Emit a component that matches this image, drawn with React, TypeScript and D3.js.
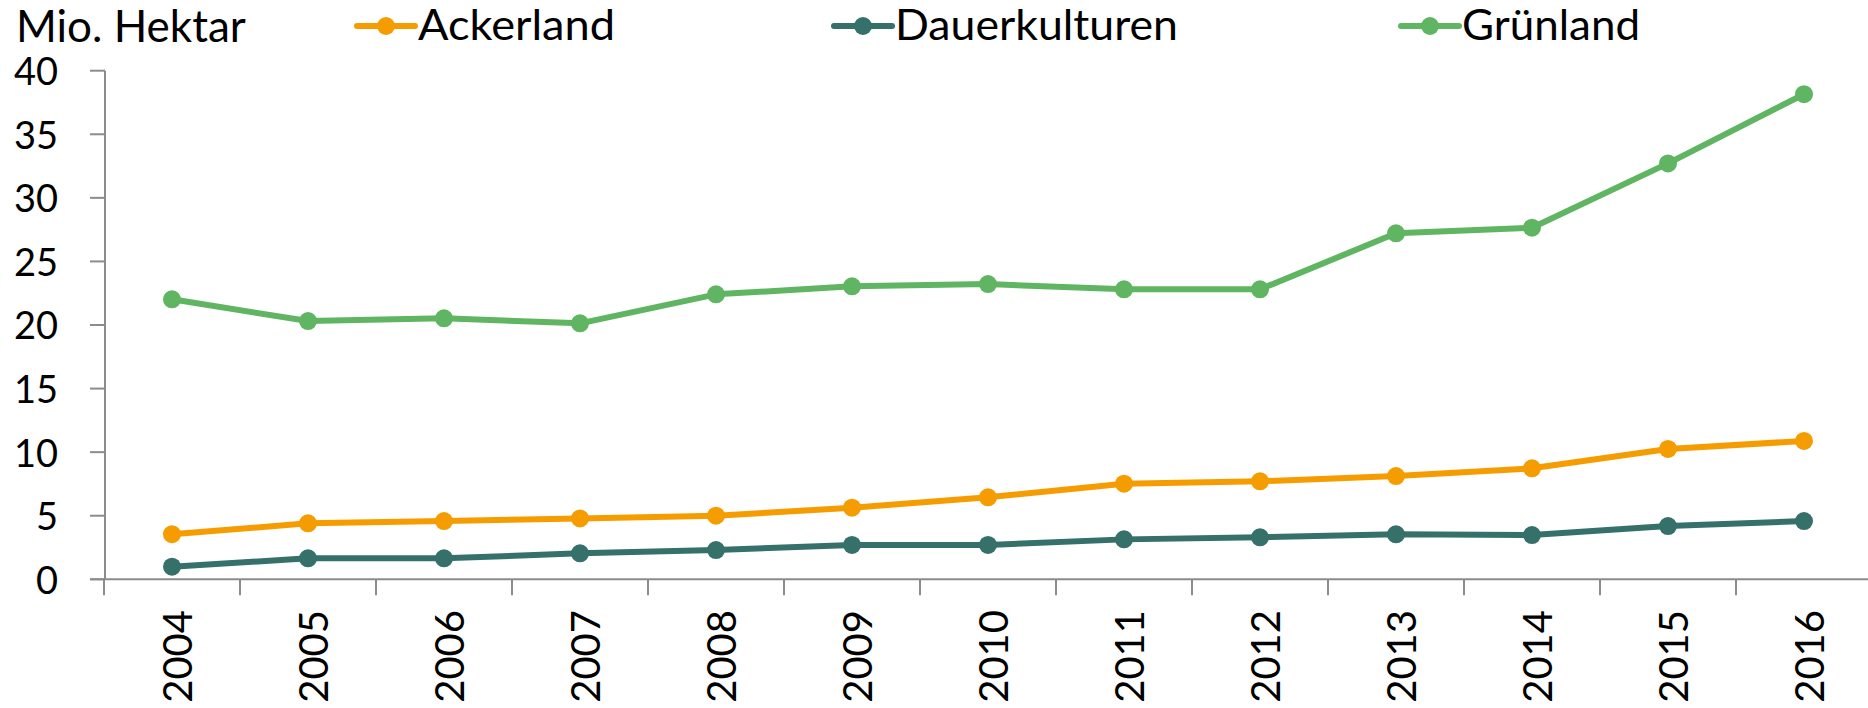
import React from "react";
import * as d3 from "d3";

const years = ["2004","2005","2006","2007","2008","2009","2010","2011","2012","2013","2014","2015","2016"];
const ackerland = [3.55, 4.4, 4.58, 4.79, 5.0, 5.63, 6.45, 7.52, 7.71, 8.12, 8.73, 10.25, 10.88];
const dauerkulturen = [0.99, 1.65, 1.65, 2.04, 2.3, 2.7, 2.7, 3.14, 3.3, 3.54, 3.48, 4.19, 4.58];
const gruenland = [22.02, 20.31, 20.53, 20.13, 22.41, 23.04, 23.22, 22.81, 22.81, 27.21, 27.65, 32.71, 38.15];
const yTicks = [0, 5, 10, 15, 20, 25, 30, 35, 40];
const seriesNames = ["Ackerland", "Dauerkulturen", "Grünland"];
const seriesColors = ["#F59D00", "#35716A", "#5FB562"];
const yAxisTitle = "Mio. Hektar";

const W = 1868;
const H = 708;
const FONT = "Lato, 'Open Sans', sans-serif";

export default function App() {
  const series = [ackerland, dauerkulturen, gruenland];
  const x = d3.scaleBand<string>().domain(years).range([104, 1872]);
  const y = d3.scaleLinear().domain([0, 40]).range([579.3, 70.7]);
  const cx = (yr: string) => (x(yr) as number) + x.bandwidth() / 2;
  const line = d3
    .line<number>()
    .x((_, i) => cx(years[i]))
    .y((v) => y(v));
  const axisColor = "#8C8C8C";
  const legendX = [357, 834, 1401];

  return (
    <svg
      width={W}
      height={H}
      style={{ position: "absolute", left: 0, top: 0, background: "#fff" }}
      fontFamily={FONT}
    >
      {/* y axis title */}
      <text x={16} y={42} fontSize={44} fill="#000">
        {yAxisTitle}
      </text>

      {/* y axis */}
      <line x1={105} x2={105} y1={y(40)} y2={y(0)} stroke={axisColor} strokeWidth={2} />
      {yTicks.map((t) => (
        <g key={t}>
          <line x1={90} x2={105} y1={y(t)} y2={y(t)} stroke={axisColor} strokeWidth={2} />
          <text x={58} y={y(t)} dy="0.38em" textAnchor="end" fontSize={38} fill="#000">
            {t}
          </text>
        </g>
      ))}

      {/* x axis */}
      <line x1={90} x2={W} y1={y(0)} y2={y(0)} stroke={axisColor} strokeWidth={2} />
      {years.map((yr) => (
        <line
          key={"t" + yr}
          x1={x(yr) as number}
          x2={x(yr) as number}
          y1={y(0)}
          y2={y(0) + 16}
          stroke={axisColor}
          strokeWidth={2}
        />
      ))}
      {years.map((yr) => (
        <text
          key={"l" + yr}
          transform={`translate(${cx(yr) + 6},610) rotate(-90)`}
          dy="0.36em"
          textAnchor="end"
          fontSize={40}
          fill="#000"
        >
          {yr}
        </text>
      ))}

      {/* series */}
      {series.map((vals, si) => (
        <g key={seriesNames[si]}>
          <path
            d={line(vals) as string}
            fill="none"
            stroke={seriesColors[si]}
            strokeWidth={6}
            strokeLinejoin="round"
            strokeLinecap="round"
          />
          {vals.map((v, i) => (
            <circle key={i} cx={cx(years[i])} cy={y(v)} r={9} fill={seriesColors[si]} />
          ))}
        </g>
      ))}

      {/* legend */}
      {seriesNames.map((name, si) => (
        <g key={"lg" + name} transform={`translate(${legendX[si]},26)`}>
          <line x1={0} x2={58} y1={0} y2={0} stroke={seriesColors[si]} strokeWidth={6} strokeLinecap="round" />
          <circle cx={29} cy={0} r={9} fill={seriesColors[si]} />
          <text x={61} y={14} fontSize={42} fill="#000" textLength={si === 0 ? 197 : si === 1 ? 283 : 178} lengthAdjust="spacingAndGlyphs">
            {name}
          </text>
        </g>
      ))}
    </svg>
  );
}
